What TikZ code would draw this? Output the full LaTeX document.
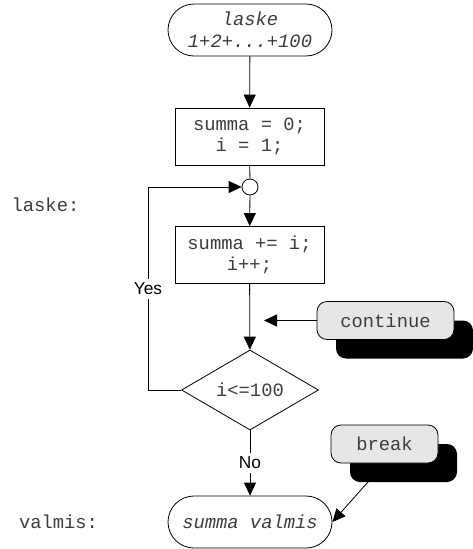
\documentclass[tikz,border=0pt]{standalone}
\usepackage{fontspec}
\setmainfont{Liberation Serif}
\setsansfont{Liberation Sans}
\setmonofont{Liberation Mono}
\usetikzlibrary{arrows.meta,shapes.geometric,shadows,backgrounds}
\definecolor{notefill}{RGB}{230,230,230}
\definecolor{codeink}{RGB}{60,60,60}
\tikzset{
  codetext/.style={font=\ttfamily\fontsize{18.8}{21}\selectfont, align=center, text=codeink},
  terminal/.style={codetext, font=\ttfamily\itshape\fontsize{18.8}{22}\selectfont,
    draw, rectangle, rounded corners=26pt, minimum width=164pt, minimum height=52pt,
    inner sep=0pt, line width=0.8pt},
  process/.style={codetext, draw, rectangle, minimum width=149pt, minimum height=57pt,
    inner sep=0pt, line width=0.8pt},
  junction/.style={draw, circle, minimum size=16pt, inner sep=0pt, line width=0.8pt},
  decision/.style={codetext, draw, diamond, minimum width=137pt, minimum height=80pt,
    inner sep=0pt, aspect=1.7, line width=0.8pt},
  notebox/.style={codetext, draw, fill=notefill, rounded corners=10pt, minimum height=38pt,
    inner sep=0pt, line width=0.8pt,
    general shadow={fill=black, shadow xshift=19pt, shadow yshift=-19pt}},
  branchlabel/.style={font=\sffamily\fontsize{17.3}{20}\selectfont, fill=white, inner sep=4pt},
  flow/.style={line width=0.8pt, -{Triangle[length=13pt,width=12pt]}},
  plain/.style={line width=0.8pt},
}
\begin{document}
\begin{tikzpicture}[x=1pt,y=-1pt]
  \useasboundingbox (0,0) rectangle (473,549);

  % flowchart nodes
  \node[terminal] (start) at (250,30) {laske\\1+2+...+100};
  \node[process]  (init)  at (249.5,136.5) {summa = 0;\\i = 1;};
  \node[junction] (join)  at (250,187) {};
  \node[process]  (body)  at (249.5,255) {summa += i;\\i++;};
  \node[decision] (test)  at (250,390) {i<=100};
  \node[terminal] (end)   at (250,522) {summa valmis};

  % jump labels
  \node[codetext] (laskelbl)  at (45.5,205) {laske:};
  \node[codetext] (valmislbl) at (58.5,522) {valmis:};

  % continue / break notes
  \node[notebox, minimum width=137pt] (cont) at (385.5,320.5) {continue};
  \node[notebox, minimum width=107pt] (brk)  at (384.5,444) {break};

  % main flow
  \draw[flow]  (start) -- (init);
  \draw[plain] (init) -- (join);
  \draw[flow]  (join) -- (body);
  \draw[flow]  (body) -- (test);

  % loop back on true
  \coordinate (loop) at (148,0);
  \draw[flow] (test.west) -- (test.west -| loop) |- (join.west);
  \node[branchlabel] (yes) at (148,289) {Yes};

  % exit on false
  \draw[flow] (test.south) -- (end.north);
  \node[branchlabel] (no) at (250,463) {No};

  % continue jumps back into the loop
  \coordinate (contTip) at (264,320.5);
  \draw[flow] (cont.west) -- (contTip);

  % break jumps to the end, passing under its shadow
  \begin{scope}[on background layer]
    \draw[flow] (brk.south) -- (end.east);
  \end{scope}
\end{tikzpicture}
\end{document}
